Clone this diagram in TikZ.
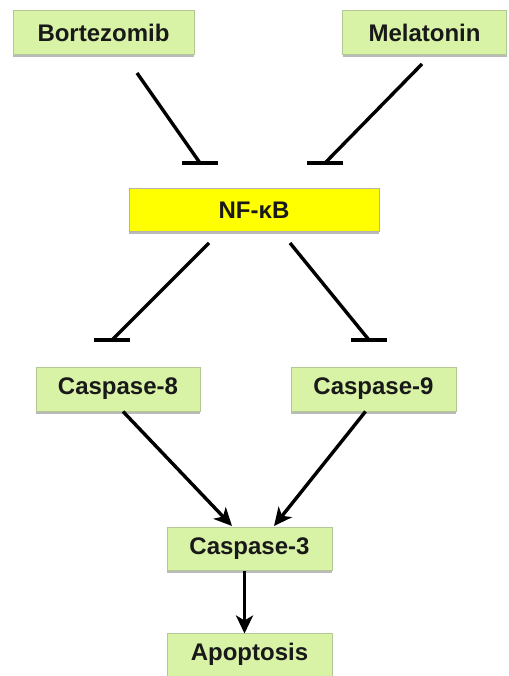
\documentclass[tikz,border=0pt]{standalone}
\usepackage{fontspec}
\setmainfont{Liberation Sans}
\usetikzlibrary{arrows.meta,shadows}
\definecolor{boxgreen}{RGB}{216,242,166}
\definecolor{boxedge}{RGB}{180,200,150}
\definecolor{nfyellow}{RGB}{255,255,0}
\begin{document}
\begin{tikzpicture}[x=1pt,y=-1pt,
  gbox/.style={draw=boxedge, line width=1pt, fill=boxgreen, minimum height=44pt, inner sep=0pt,
    text=black!90, font=\fontsize{24}{28}\selectfont\bfseries,
    drop shadow={shadow xshift=0pt, shadow yshift=-2.5pt, fill=black!45, opacity=0.6}},
  ybox/.style={gbox, fill=nfyellow, draw=black!30},
  inh/.style={line width=3.4pt},
  tbar/.style={line width=3.4pt},
  act/.style={line width=3.4pt, -{Stealth[length=18pt,width=17pt,inset=5pt]}}]
\useasboundingbox (0,0) rectangle (508,676);
\node[gbox, minimum width=181pt] (bort) at (103.5,33) {Bortezomib};
\node[gbox, minimum width=164pt] (mela) at (424.5,33) {Melatonin};
\node[ybox, minimum width=250pt, minimum height=42pt] (nfkb) at (254,210) {NF-κB};
\node[gbox, minimum width=164pt] (c8) at (118,389) {Caspase-8};
\node[gbox, minimum width=165pt] (c9) at (373.5,389) {Caspase-9};
\node[gbox, minimum width=165pt, minimum height=43pt] (c3) at (249.5,548.5) {Caspase-3};
\node[gbox, minimum width=165pt, minimum height=43pt] (apo) at (249.5,654.5) {Apoptosis};
% coordinates for inhibition lines
\coordinate (b1) at (137,73);
\coordinate (b2) at (200,163);
\coordinate (m1) at (422,64);
\coordinate (m2) at (325,163);
\coordinate (n1) at (209,243);
\coordinate (n2) at (112,340);
\coordinate (n3) at (290,243);
\coordinate (n4) at (369,340);
\draw[inh] (b1) -- (b2);
\draw[tbar] ([xshift=-18pt]b2) -- ([xshift=18pt]b2);
\draw[inh] (m1) -- (m2);
\draw[tbar] ([xshift=-18pt]m2) -- ([xshift=18pt]m2);
\draw[inh] (n1) -- (n2);
\draw[tbar] ([xshift=-18pt]n2) -- ([xshift=18pt]n2);
\draw[inh] (n3) -- (n4);
\draw[tbar] ([xshift=-18pt]n4) -- ([xshift=18pt]n4);
\draw[act] (c8.south) ++(5,0) -- (232,526) coordinate (c3a);
\draw[act] (c9.south) ++(-8,0) -- (274,526) coordinate (c3b);
\draw[act] (c3.south) ++(-5,0) -- ++(0,63);
\end{tikzpicture}
\end{document}
